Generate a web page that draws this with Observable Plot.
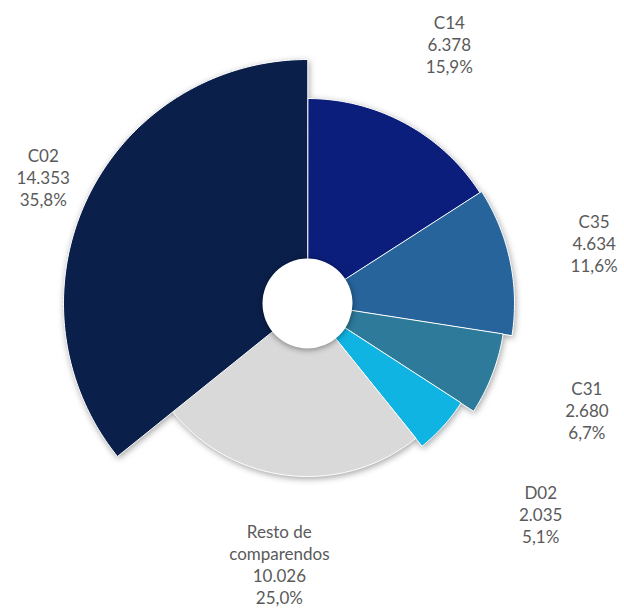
<!DOCTYPE html>
<html>
<head>
<meta charset="utf-8">
<script src="https://cdn.jsdelivr.net/npm/d3@7"></script>
<script src="https://cdn.jsdelivr.net/npm/@observablehq/plot@0.6"></script>
<style>
  html, body { margin: 0; padding: 0; background: #fff; }
  #chart svg { display: block; }
  #chart g[aria-label="line"] { filter: drop-shadow(1px 2px 3px rgba(0,0,0,0.35)); }
  #chart g[aria-label="dot"] { filter: drop-shadow(0px 1px 3px rgba(0,0,0,0.45)); }
</style>
</head>
<body>
<div id="chart"></div>
<script>
// ---- data (clockwise from 12 o'clock) ----
const categories = ["C14", "C35", "C31", "D02", "Resto de\ncomparendos", "C02"];
const values = [6378, 4634, 2680, 2035, 10026, 14353];

// ---- layout / style ----
const colors = ["#0b1e7b", "#26649b", "#2e7a9a", "#0fb4e2", "#d9d9d9", "#0b1f4b"];
const radii = [205, 207, 198, 183, 173, 244];       // outer radius of each wedge (px)
const labelDist = [296, 293, 299, 314, 262, 293];   // label distance from centre (px)
const holeR = 45;
const W = 624, H = 610, cx = 307, cy = 303;

const loc = d3.formatLocale({decimal: ",", thousands: ".", grouping: [3], currency: ["$", ""]});
const fmtNum = loc.format(",");
const fmtPct = loc.format(".1f");

const total = d3.sum(values);
let acc = 0;
const slices = categories.map((c, i) => {
  const a0 = acc / total * 2 * Math.PI;
  acc += values[i];
  const a1 = acc / total * 2 * Math.PI;
  return {cat: c, value: values[i], a0, a1, r: radii[i], pct: values[i] / total * 100, i};
});

// polygon points for each wedge (data units = px, y up)
const pts = [];
for (const s of slices) {
  pts.push({cat: s.cat, x: 0, y: 0});
  const n = Math.max(8, Math.ceil((s.a1 - s.a0) * 60));
  for (let k = 0; k <= n; k++) {
    const t = s.a0 + (s.a1 - s.a0) * k / n;
    pts.push({cat: s.cat, x: s.r * Math.sin(t), y: s.r * Math.cos(t)});
  }
}

const labels = slices.map(s => {
  const m = (s.a0 + s.a1) / 2;
  return {
    x: labelDist[s.i] * Math.sin(m),
    y: labelDist[s.i] * Math.cos(m),
    text: `${s.cat}\n${fmtNum(s.value)}\n${fmtPct(s.pct)}%`
  };
});

const chart = Plot.plot({
  width: W,
  height: H,
  margin: 0,
  x: {domain: [-cx, W - cx], axis: null},
  y: {domain: [-(H - cy), cy], axis: null},
  color: {domain: categories, range: colors},
  style: {fontFamily: "Lato, 'Open Sans', sans-serif", background: "white"},
  marks: [
    Plot.line(pts, {x: "x", y: "y", z: "cat", fill: "cat", stroke: "white", strokeWidth: 1, curve: "linear-closed"}),
    Plot.dot([{x: 0, y: 0}], {x: "x", y: "y", r: holeR, fill: "white", stroke: "none"}),
    Plot.text(labels, {x: "x", y: "y", text: "text", fontSize: 17, lineHeight: 1.3, fill: "#5a5a5a", textAnchor: "middle"})
  ]
});
document.getElementById("chart").appendChild(chart);
</script>
</body>
</html>
